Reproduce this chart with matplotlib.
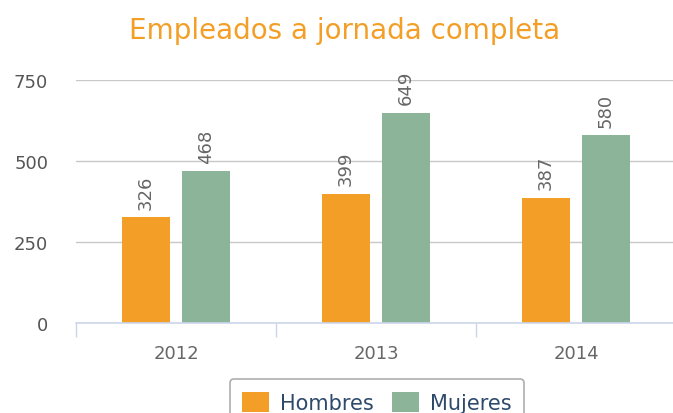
import numpy as np
import matplotlib.pyplot as plt

years = ['2012', '2013', '2014']
hombres = [326, 399, 387]
mujeres = [468, 649, 580]
series = ['Hombres', 'Mujeres']
colors = ['#f39f27', '#8cb499']

fig = plt.figure(figsize=(6.73, 4.14), dpi=100)
ax = fig.add_axes([76 / 673, 90 / 414, 600 / 673, 243 / 414])

x = np.arange(len(years))
w = 0.24
b1 = ax.bar(x - 0.15, hombres, w, color=colors[0], label=series[0], zorder=2)
b2 = ax.bar(x + 0.15, mujeres, w, color=colors[1], label=series[1], zorder=2)

for bars in (b1, b2):
    for r in bars:
        ax.annotate(f'{int(r.get_height())}', (r.get_x() + r.get_width() / 2, r.get_height()),
                    xytext=(0, 6), textcoords='offset points', rotation=90,
                    ha='center', va='bottom', fontsize=13, color='#666666')

ax.set_xlim(-0.5, 2.5)
ax.set_ylim(0, 750)
ax.set_yticks([0, 250, 500, 750])
ax.grid(axis='y', color='#c8c8c8', lw=1, zorder=0)
ax.set_xticks([-0.5, 0.5, 1.5, 2.5])
ax.set_xticklabels([])
ax.set_xticks(x, minor=True)
ax.set_xticklabels(years, minor=True)
ax.tick_params(axis='x', which='major', length=10, color='#ccd6eb', width=1)
ax.tick_params(axis='x', which='minor', length=0, pad=15, labelsize=13, labelcolor='#666666')
ax.tick_params(axis='y', length=0, pad=20, labelsize=13, labelcolor='#555555')
for s in ['top', 'right', 'left']:
    ax.spines[s].set_visible(False)
ax.spines['bottom'].set_color('#ccd6eb')
ax.spines['bottom'].set_linewidth(1.2)

fig.suptitle('Empleados a jornada completa', x=0.512, y=0.96, fontsize=20, color='#f39f27')

leg = fig.legend(loc='lower center', bbox_to_anchor=(0.56, -0.055), ncol=2, fontsize=15,
                 frameon=True, edgecolor='#999999', fancybox=True, handlelength=1.3,
                 handleheight=1.1, columnspacing=0.9, handletextpad=0.5, borderpad=0.6)
for t in leg.get_texts():
    t.set_color('#2e4a6b')
leg.get_frame().set_linewidth(1.2)

fig.savefig('out.png', dpi=100)
